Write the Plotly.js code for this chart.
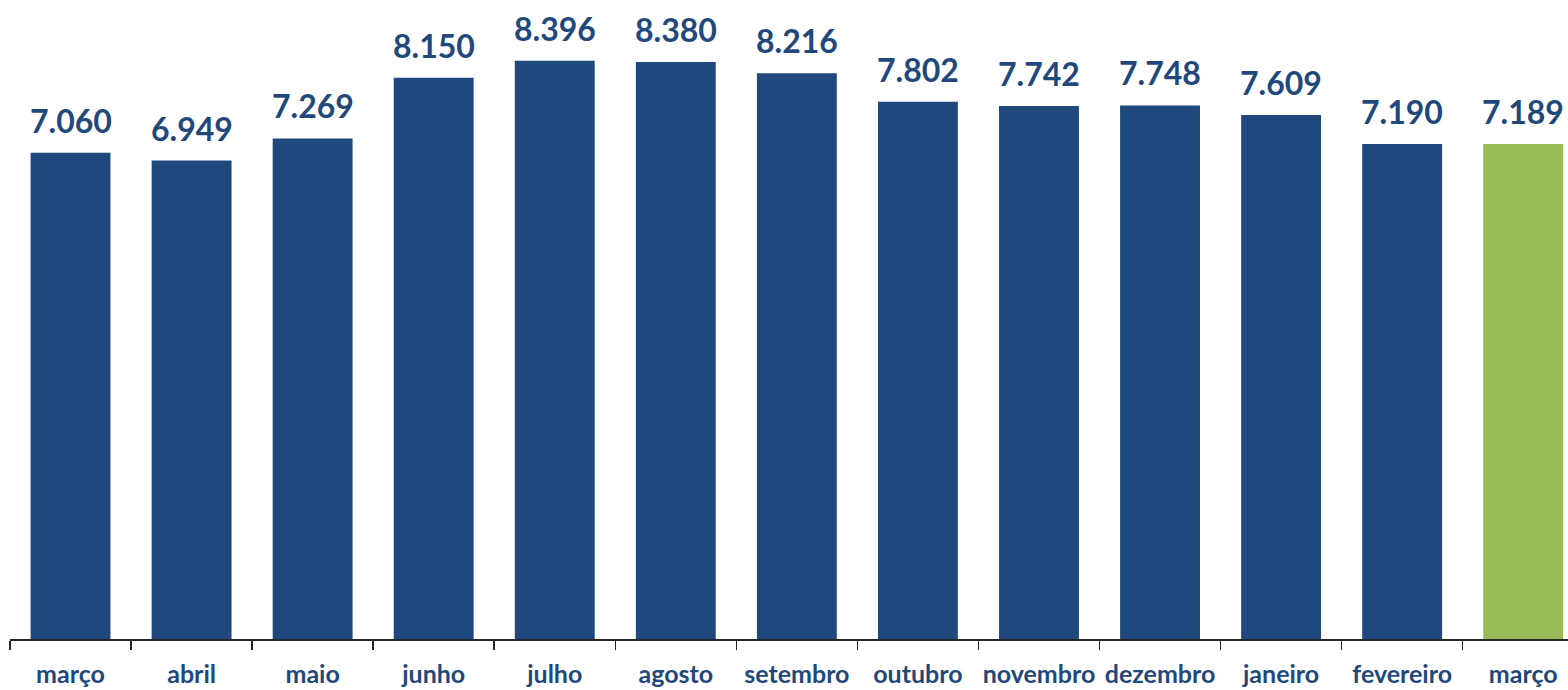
<!DOCTYPE html>
<html>
<head>
<meta charset="utf-8">
<script src="https://cdn.plot.ly/plotly-3.0.1.min.js"></script>
<style>html,body{margin:0;padding:0;background:#fff;}#chart{width:1568px;height:690px;}</style>
</head>
<body>
<div id="chart"></div>
<script>
const months = ["março","abril","maio","junho","julho","agosto","setembro","outubro","novembro","dezembro","janeiro","fevereiro","março"];
const values = [7060, 6949, 7269, 8150, 8396, 8380, 8216, 7802, 7742, 7748, 7609, 7190, 7189];
const barColors = ["#1F497D","#1F497D","#1F497D","#1F497D","#1F497D","#1F497D","#1F497D","#1F497D","#1F497D","#1F497D","#1F497D","#1F497D","#9BBB59"];

const xs = months.map((m, i) => i);
const fontFam = "Lato, 'Open Sans', sans-serif";
const textColor = "#1F497D";

const trace = {
  type: "bar",
  x: xs,
  y: values,
  width: 0.66,
  marker: {color: barColors, line: {width: 0}},
  hoverinfo: "skip"
};

const annotations = xs.map((x, i) => ({
  x: x, y: values[i], xref: "x", yref: "y",
  text: values[i].toLocaleString("de-DE"),
  showarrow: false, yanchor: "bottom", xanchor: "center",
  yshift: 11,
  font: {family: fontFam, size: 32, color: textColor, weight: "bold"}
}));

const layout = {
  width: 1568, height: 690,
  margin: {l: 10, r: 0, t: 0, b: 51},
  paper_bgcolor: "#fff", plot_bgcolor: "#fff",
  showlegend: false,
  separators: ",.",
  xaxis: {
    range: [-0.5, 12.37],
    tickmode: "array", tickvals: xs, ticktext: months,
    ticks: "", ticklabelstandoff: 12,
    showline: true, linecolor: "#262626", linewidth: 1.5,
    showgrid: false, zeroline: false,
    tickfont: {family: fontFam, size: 25, color: textColor, weight: "bold"},
    minor: {tickmode: "linear", tick0: -0.5, dtick: 1, ticks: "outside", ticklen: 9, tickwidth: 1.5, tickcolor: "#262626", showgrid: false}
  },
  yaxis: {
    range: [0, 9280], visible: false, showgrid: false, zeroline: false
  },
  annotations: annotations
};

Plotly.newPlot("chart", [trace], layout, {displayModeBar: false, staticPlot: true});
</script>
</body>
</html>
